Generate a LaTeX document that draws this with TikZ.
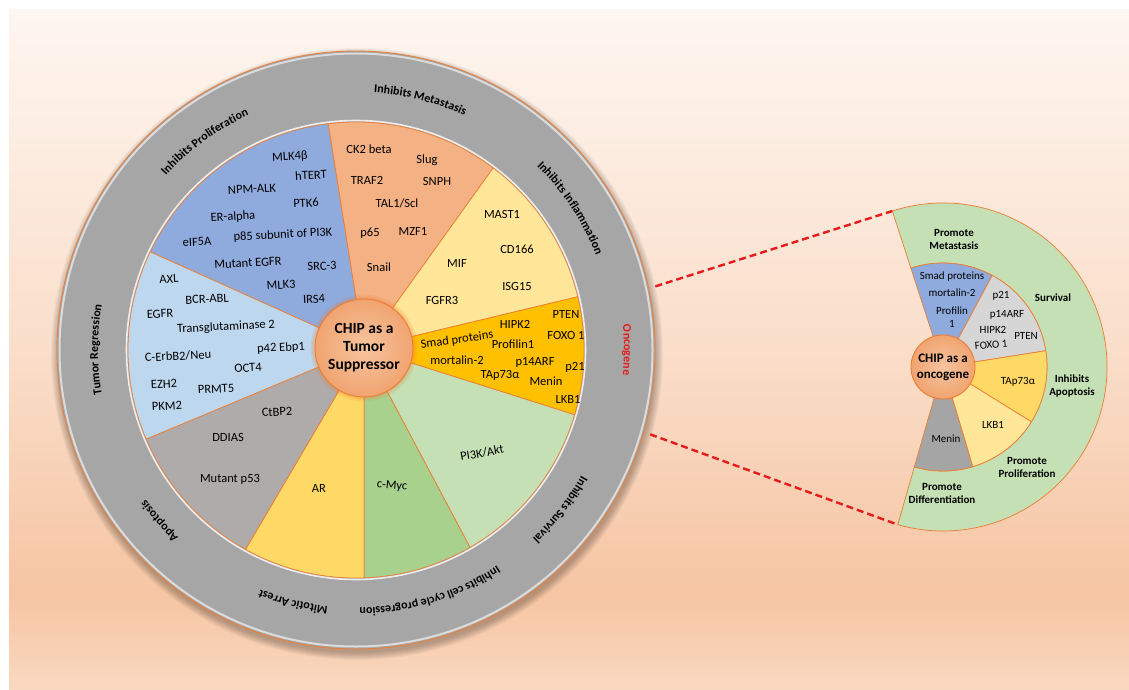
\documentclass[tikz,border=0pt]{standalone}
\usepackage{fontspec}
\setmainfont{Carlito}
\usetikzlibrary{calc,decorations.text}

\definecolor{bgtop}{RGB}{254,246,240}
\definecolor{bgmid}{RGB}{250,222,202}
\definecolor{bgdeep}{RGB}{246,197,163}
\definecolor{bgbot}{RGB}{249,216,192}
\definecolor{ringgray}{RGB}{166,166,166}
\definecolor{edgeorange}{RGB}{237,125,49}
\definecolor{blueW}{RGB}{143,170,220}
\definecolor{salmonW}{RGB}{244,177,131}
\definecolor{creamW}{RGB}{255,230,153}
\definecolor{goldW}{RGB}{255,192,0}
\definecolor{mintW}{RGB}{197,224,180}
\definecolor{greenW}{RGB}{169,209,142}
\definecolor{yellowW}{RGB}{255,217,102}
\definecolor{grayW}{RGB}{175,171,171}
\definecolor{skyW}{RGB}{189,215,238}
\definecolor{lgrayW}{RGB}{214,214,214}
\definecolor{mgrayW}{RGB}{165,165,165}
\definecolor{corelight}{RGB}{248,196,160}
\definecolor{coredark}{RGB}{240,164,112}
\definecolor{linkred}{RGB}{228,28,28}

\pgfdeclareverticalshading{bgpeach}{100bp}{color(0bp)=(bgbot); color(25bp)=(bgbot); color(32bp)=(bgdeep); color(50bp)=(bgmid); color(75bp)=(bgtop); color(100bp)=(bgtop)}

\newcommand\ringfont{\bfseries\fontsize{12}{14}\selectfont}

\begin{document}
\begin{tikzpicture}[x=1pt,y=1pt,
	lab/.style={font=\fontsize{12.5}{14}\selectfont,inner sep=1pt},
	slab/.style={font=\fontsize{11}{13.3}\selectfont,align=center,inner sep=1pt},
	blab/.style={slab,font=\bfseries\fontsize{11}{13}\selectfont},
	wedge/.style={draw=edgeorange,line width=.7},
	core/.style={circle,draw=edgeorange,line width=.9,inner color=corelight,outer color=coredark,align=center,inner sep=0pt},
	ringtext/.style={decorate,decoration={text along path,text align=center,text={|\ringfont|#1}}},
	redtext/.style={decorate,decoration={text along path,text align=center,text color=linkred,text={|\ringfont|#1}}},
	reddash/.style={linkred,line width=2.4,dash pattern=on 7pt off 4pt}]
	\useasboundingbox (0,0) rectangle (1129,689);
	\fill[white] (0,0) rectangle (1129,689);
	\shade[shading=bgpeach] (9,0) rectangle (1129,679);
	\coordinate (D) at (356,339);
	\coordinate (C) at (364,341);
	\coordinate (E) at (943,322);
	\foreach \s in {1,...,8} \fill[black,opacity=.035] ($(D)+(1,-4)$) circle (298+\s);
	\filldraw[fill=ringgray,draw=edgeorange,line width=.8] (D) circle (299);
	\draw[white,opacity=.6,line width=2] (D) circle (296.5);
	\foreach \a/\b/\c in {154.5/97/blueW,97/53/salmonW,53/13.5/creamW,13.5/-16.5/goldW,-16.5/-60/mintW,-60/-88/greenW,-88/-119/yellowW,-119/-157/grayW,-157/-205.5/skyW}
		\filldraw[wedge,fill=\c] (C) -- ($(D)+(\a:228)$) arc[start angle=\a,end angle=\b,radius=228] -- cycle;
	\draw[white,opacity=.8,line width=1.6] (D) circle (229.5);
	\path[ringtext=Inhibits Proliferation] ($(D)+(166:258)$) arc[start angle=166,end angle=86,radius=258];
	\path[ringtext=Inhibits Metastasis] ($(D)+(115.6:258)$) arc[start angle=115.6,end angle=35.6,radius=258];
	\path[ringtext=Inhibits Inflammation] ($(D)+(73.5:258)$) arc[start angle=73.5,end angle=-6.5,radius=258];
	\path[redtext=Oncogene] ($(D)+(40:268)$) arc[start angle=40,end angle=-40,radius=268];
	\path[ringtext=Inhibits Survival] ($(D)+(2:258)$) arc[start angle=2,end angle=-78,radius=258];
	\path[ringtext=Inhibits cell cycle progression] ($(D)+(-33:258)$) arc[start angle=-33,end angle=-113,radius=258];
	\path[ringtext=Mitotic Arrest] ($(D)+(-64:258)$) arc[start angle=-64,end angle=-144,radius=258];
	\path[ringtext=Apoptosis] ($(D)+(-99:258)$) arc[start angle=-99,end angle=-179,radius=258];
	\path[ringtext=Tumor Regression] ($(D)+(220:258)$) arc[start angle=220,end angle=140,radius=258];
	\foreach \s in {1,2,3} \fill[edgeorange,opacity=.12] (C) circle (49+1.5*\s);
	\node[core,minimum size=98pt,font=\bfseries\fontsize{15.5}{18}\selectfont] (tumor) at (C) {CHIP as a\\Tumor\\Suppressor};
	\foreach \t/\x/\y [count=\i] in {MLK4β/290/532,hTERT/311/514,NPM-ALK/252/500,PTK6/306/486,ER-alpha/233/472,p85 subunit of PI3K/283/454,eIF5A/197/447,Mutant EGFR/248/426,SRC-3/322/423,MLK3/281/404,IRS4/314/390}
		\node[lab,rotate=3] (prolif\i) at (\x,\y) {\t};
	\foreach \t/\x/\y [count=\i] in {AXL/169/410,BCR-ABL/207/390,EGFR/160/375,Transglutaminase 2/226/362,p42 Ebp1/281/341,{C-ErbB2/Neu}/178/333,OCT4/248/321,EZH2/164/305,PRMT5/216/300,PKM2/167/283}
		\node[lab,rotate=3] (regress\i) at (\x,\y) {\t};
	\foreach \t/\x/\y [count=\i] in {CK2 beta/369/540,Slug/427/529,TRAF2/367/509,SNPH/437/508,{TAL1/Scl}/397/486,p65/370/456,MZF1/413/458,Snail/379/422}
		\node[lab] (meta\i) at (\x,\y) {\t};
	\foreach \t/\x/\y [count=\i] in {MAST1/502/475,CD166/517/440,MIF/457/426,ISG15/517/403,FGFR3/442/389}
		\node[lab] (inflam\i) at (\x,\y) {\t};
	\foreach \t/\x/\y/\r [count=\i] in {PTEN/566/375/0,HIPK2/515/365/0,FOXO 1/566/354/0,Smad proteins/457/349/8,Profilin1/513/345/0,mortalin-2/457/329/0,p14ARF/535/327/0,p21/575/322/0,TAp73α/500/314/0,Menin/546/308/0,LKB1/568/290/0}
		\node[lab,rotate=\r] (onc\i) at (\x,\y) {\t};
	\foreach \t/\x/\y/\r [count=\i] in {{PI3K/Akt}/482/236/10,c-Myc/392/203/-5,AR/319/201/0,CtBP2/277/277/3,DDIAS/228/252/0,Mutant p53/230/210/0}
		\node[lab,rotate=\r] (lower\i) at (\x,\y) {\t};
	\coordinate (o1) at ($(D)+(12:306)$);
	\coordinate (o2) at ($(D)+(-16:306)$);
	\filldraw[wedge,fill=mintW] ($(E)+(108:164)$) coordinate (g1) arc[start angle=108,end angle=-106,radius=164] coordinate (g2) -- ($(E)+(-106:104)$) arc[start angle=-106,end angle=108,radius=104] -- cycle;
	\foreach \a/\b/\c in {108/61.7/blueW,61.7/9/lgrayW,9/-31.8/yellowW,-31.8/-73.4/creamW,-73.4/-106/mgrayW}
		\filldraw[wedge,fill=\c] (E) -- ($(E)+(\a:104)$) arc[start angle=\a,end angle=\b,radius=104] -- cycle;
	\node[core,minimum size=64pt,font=\bfseries\fontsize{13}{16}\selectfont] (onco) at (E) {CHIP as a\\oncogene};
	\foreach \t/\x/\y/\r [count=\i] in {Smad proteins/952/412/0,mortalin-2/952/396/0,Profilin\\1/952/372/0,p21/1001/393/0,p14ARF/1007/374/0,HIPK2/993/359/0,PTEN/1026/353/0,FOXO 1/991/344/5,TAp73α/1018/307/0,LKB1/993/264/0,Menin/946/250/0}
		\node[slab,rotate=\r] (inner\i) at (\x,\y) {\t};
	\foreach \t/\x/\y [count=\i] in {Promote\\Metastasis/954/450,Survival/1053/391,Inhibits\\Apoptosis/1072/303,Promote\\Proliferation/1027/222,Promote\\Differentiation/942/196}
		\node[blab] (outer\i) at (\x,\y) {\t};
	\draw[reddash] (o1) -- (g1);
	\draw[reddash] (o2) -- (g2);
\end{tikzpicture}
\end{document}
